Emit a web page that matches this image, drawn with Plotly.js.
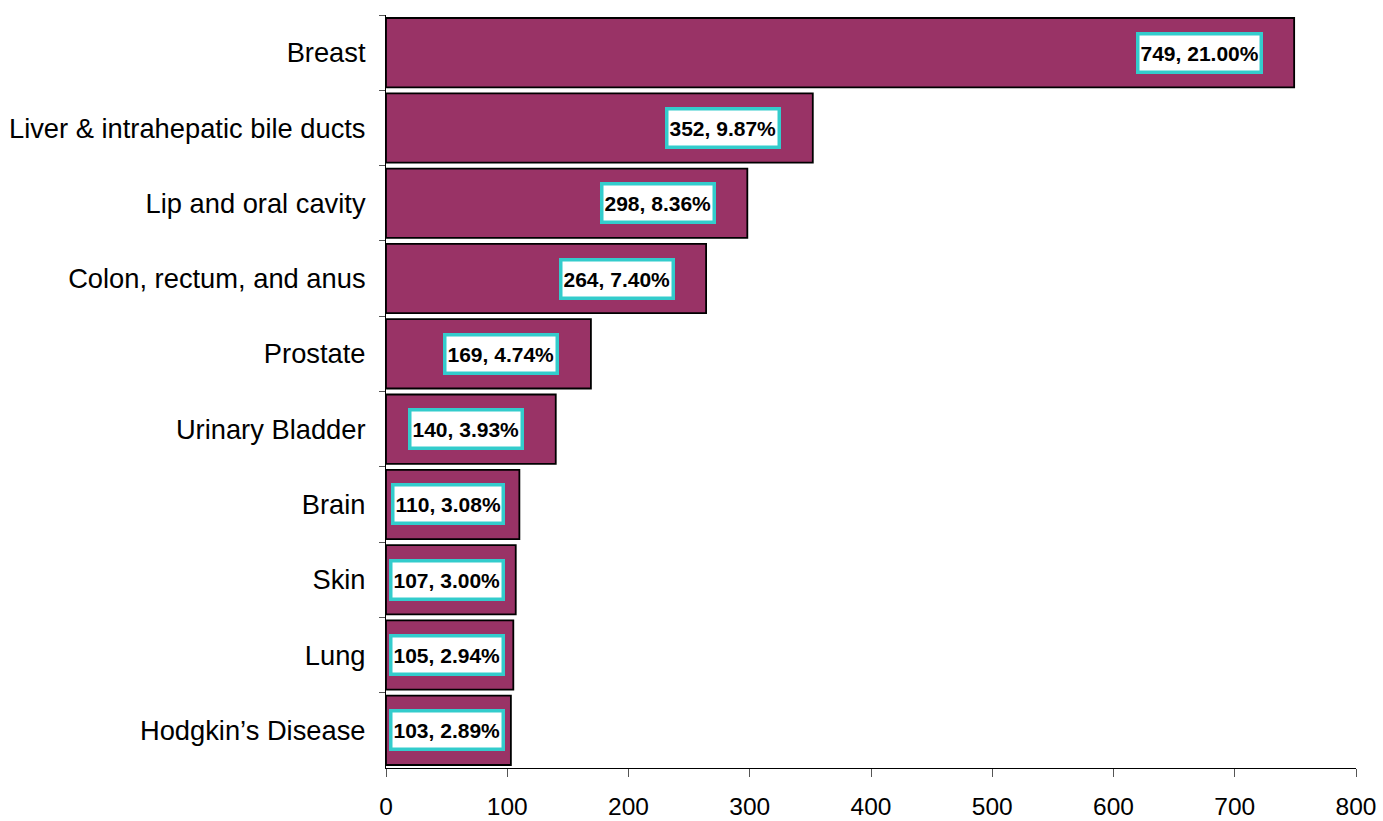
<!DOCTYPE html>
<html>
<head>
<meta charset="utf-8">
<script src="https://cdn.plot.ly/plotly-3.0.1.min.js"></script>
<style>html,body{margin:0;padding:0;background:#fff;}#chart{width:1383px;height:821px;}</style>
</head>
<body>
<div id="chart"></div>
<script>
const categories = ["Breast", "Liver & intrahepatic bile ducts", "Lip and oral cavity", "Colon, rectum, and anus", "Prostate", "Urinary Bladder", "Brain", "Skin", "Lung", "Hodgkin\u2019s Disease"];
const counts = [749, 352, 298, 264, 169, 140, 110, 107, 105, 103];
const percents = ["21.00%", "9.87%", "8.36%", "7.40%", "4.74%", "3.93%", "3.08%", "3.00%", "2.94%", "2.89%"];
const xTicks = [0, 100, 200, 300, 400, 500, 600, 700, 800];

const trace = {
  type: "bar",
  orientation: "h",
  x: counts,
  y: categories,
  marker: {color: "#993366", line: {color: "#000000", width: 1.8}},
  hoverinfo: "x+y"
};

const annotations = counts.map((v, i) => ({
  xref: "x", yref: "y",
  x: Math.max(v - 26, 98),
  y: categories[i],
  xanchor: "right", yanchor: "middle",
  text: "<b>" + v + ", " + percents[i] + "</b>",
  showarrow: false,
  font: {family: "Liberation Sans, Arial, sans-serif", size: 21, color: "#000"},
  bgcolor: "#ffffff",
  bordercolor: "#33CCCC",
  borderwidth: 3.5,
  borderpad: 1,
  height: 33
}));

const layout = {
  width: 1383, height: 821,
  margin: {l: 386, r: 27, t: 15, b: 53},
  paper_bgcolor: "#fff", plot_bgcolor: "#fff",
  showlegend: false,
  bargap: 0.08,
  font: {family: "Liberation Sans, Arial, sans-serif", size: 25, color: "#000"},
  xaxis: {
    range: [0, 800], tickvals: xTicks, ticktext: xTicks.map(String),
    showgrid: false, zeroline: false, showline: true, linecolor: "#000", linewidth: 1,
    ticks: "outside", ticklen: 8, tickcolor: "#555", tickwidth: 1,
    tickfont: {size: 24.5}, ticklabelstandoff: 9
  },
  yaxis: {
    type: "category", autorange: "reversed",
    showgrid: false, zeroline: false, showline: true, linecolor: "#000", linewidth: 1,
    ticks: "outside", ticklen: 6, tickcolor: "#555", tickwidth: 1, tickson: "boundaries",
    tickfont: {size: 27.3}, ticklabelstandoff: 14
  },
  annotations: annotations
};

Plotly.newPlot("chart", [trace], layout, {displayModeBar: false, staticPlot: true});
</script>
</body>
</html>
